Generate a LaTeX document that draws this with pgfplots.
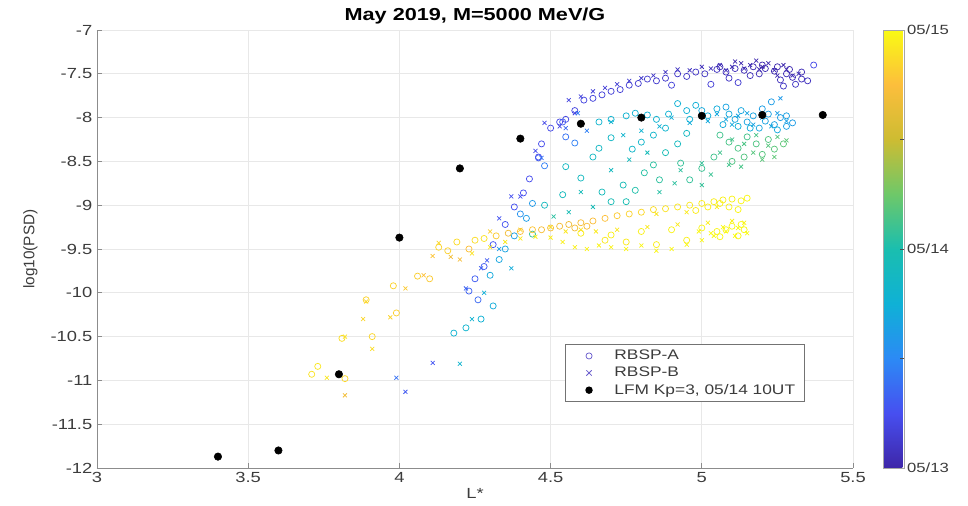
\documentclass[border=0pt]{standalone}
\usepackage{fontspec}
\setmainfont{Liberation Sans}[FakeStretch=1.25]
\newfontfamily\plainsans{Liberation Sans}
\usepackage{pgfplots}
\usepackage{pgfplotstable}
\pgfplotsset{compat=1.18}

\definecolor{legmark}{RGB}{105,92,205}
\definecolor{tickgray}{RGB}{60,60,60}

% parula-like colormap, 05/13 (0) to 05/15 (2)
\pgfplotsset{colormap={parula}{rgb255=(62,38,168) rgb255=(71,79,240) rgb255=(44,138,245) rgb255=(15,177,214) rgb255=(26,190,175) rgb255=(110,200,105) rgb255=(205,188,50) rgb255=(252,190,60) rgb255=(249,250,20)}}

% RBSP-A: L*, log10(PSD), time in days since 05/13 00UT
\pgfplotstableread{
x y t
5.37 -7.40 0.22
5.33 -7.56 0.06
5.30 -7.54 0.05
5.28 -7.50 0.04
5.26 -7.57 0.07
5.24 -7.47 0.03
5.21 -7.44 0.04
5.19 -7.50 0.05
5.17 -7.42 0.03
5.14 -7.46 0.05
5.12 -7.60 0.14
5.11 -7.44 0.06
5.08 -7.48 0.07
5.05 -7.45 0.08
5.03 -7.62 0.16
5.01 -7.50 0.09
4.98 -7.48 0.10
4.95 -7.53 0.11
4.92 -7.50 0.11
4.90 -7.63 0.17
4.88 -7.55 0.12
4.85 -7.58 0.13
4.82 -7.56 0.13
4.79 -7.61 0.14
4.76 -7.63 0.15
4.73 -7.68 0.16
4.70 -7.70 0.16
4.67 -7.74 0.17
4.64 -7.78 0.18
4.61 -7.80 0.19
4.58 -7.92 0.19
4.55 -8.02 0.20
4.53 -8.05 0.21
4.50 -8.12 0.22
4.47 -8.30 0.23
4.46 -8.45 0.23
4.43 -8.70 0.24
4.41 -8.86 0.25
4.38 -9.02 0.26
4.35 -9.22 0.27
4.31 -9.45 0.28
4.28 -9.70 0.30
4.25 -9.84 0.31
4.23 -9.98 0.33
4.26 -10.08 0.36
5.29 -7.45 0.03
5.25 -7.42 0.02
5.20 -7.40 0.02
5.16 -7.52 0.06
5.09 -7.55 0.10
5.06 -7.42 0.04
5.33 -7.48 0.05
5.35 -7.58 0.08
5.31 -7.62 0.09
5.27 -7.64 0.10
5.30 -8.06 0.62
5.28 -8.10 0.64
5.26 -8.00 0.63
5.24 -8.08 0.65
5.22 -7.96 0.64
5.21 -8.04 0.66
5.19 -8.12 0.68
5.17 -7.98 0.66
5.15 -8.05 0.67
5.13 -7.92 0.68
5.11 -8.02 0.69
5.09 -7.96 0.70
5.07 -8.08 0.71
5.23 -7.82 0.62
5.05 -7.90 0.72
5.02 -7.98 0.73
4.98 -7.86 0.74
4.95 -7.92 0.75
4.92 -7.84 0.76
4.89 -7.96 0.77
4.85 -8.02 0.78
4.82 -7.97 0.76
4.78 -7.95 0.77
4.75 -7.98 0.78
4.70 -8.02 0.79
4.66 -8.05 0.80
5.28 -7.98 0.65
5.25 -8.14 0.70
5.20 -7.90 0.63
5.16 -8.12 0.72
5.12 -8.10 0.74
5.08 -7.88 0.66
5.00 -7.92 0.70
4.96 -8.02 0.76
4.88 -8.12 0.80
4.84 -8.20 0.82
4.80 -8.28 0.83
4.77 -8.36 0.84
4.70 -8.23 0.86
4.66 -8.35 0.87
4.64 -8.45 0.88
4.58 -8.29 0.46
4.55 -8.22 0.40
4.54 -8.05 0.30
4.46 -8.46 0.30
4.48 -8.55 0.45
4.55 -8.56 0.88
4.60 -8.69 0.90
4.74 -8.77 0.95
4.67 -8.85 0.93
4.70 -8.96 0.96
4.54 -8.88 0.92
4.48 -9.00 0.90
4.44 -8.98 0.60
4.40 -9.10 0.55
4.84 -8.54 1.05
4.81 -8.63 1.04
4.86 -8.71 1.06
4.96 -8.71 1.08
4.78 -8.83 1.02
4.75 -8.96 0.98
5.06 -8.20 1.12
5.09 -8.28 1.14
5.12 -8.35 1.15
5.15 -8.22 1.13
5.18 -8.30 1.16
5.20 -8.42 1.18
5.22 -8.25 1.17
5.24 -8.36 1.19
5.27 -8.30 1.20
5.14 -8.45 1.17
5.10 -8.50 1.16
5.04 -8.45 1.12
5.00 -8.58 1.10
4.93 -8.52 1.08
4.88 -8.40 0.96
4.92 -8.30 0.90
4.95 -8.18 0.88
4.30 -9.80 0.70
4.33 -9.62 0.68
4.18 -10.46 0.78
4.22 -10.40 0.80
4.27 -10.30 0.76
4.31 -10.15 0.72
4.35 -9.50 0.66
4.38 -9.35 0.64
4.42 -9.15 0.62
4.44 -9.33 1.10
3.73 -10.84 1.92
3.71 -10.93 1.90
3.81 -10.52 1.88
3.82 -10.98 1.86
3.91 -10.50 1.85
3.89 -10.08 1.84
3.99 -10.23 1.82
3.98 -9.92 1.84
4.06 -9.81 1.82
4.10 -9.84 1.80
4.13 -9.48 1.85
4.16 -9.52 1.83
4.19 -9.42 1.87
4.23 -9.50 1.76
4.25 -9.40 1.88
4.28 -9.38 1.90
4.32 -9.35 1.80
4.36 -9.32 1.70
4.40 -9.30 1.75
4.44 -9.28 1.78
4.47 -9.28 1.72
4.50 -9.26 1.72
4.53 -9.24 1.70
4.56 -9.22 1.68
4.58 -9.26 1.70
4.60 -9.20 1.72
4.62 -9.24 1.73
4.64 -9.18 1.74
4.68 -9.15 1.76
4.72 -9.12 1.80
4.76 -9.10 1.84
4.80 -9.08 1.86
4.84 -9.05 1.88
4.88 -9.04 1.90
4.92 -9.02 1.92
4.96 -9.00 1.93
4.98 -9.06 1.94
5.00 -8.98 1.94
5.02 -9.02 1.95
5.04 -8.96 1.95
5.06 -8.98 1.96
5.07 -8.94 1.96
5.09 -9.02 1.97
5.10 -8.93 1.97
5.12 -9.05 1.98
5.13 -8.95 1.98
5.15 -8.92 1.99
4.60 -9.32 1.95
4.70 -9.34 1.96
4.80 -9.30 1.96
4.90 -9.28 1.97
5.00 -9.26 1.98
5.05 -9.30 1.98
5.06 -9.36 1.99
5.08 -9.28 1.99
5.10 -9.24 1.99
5.13 -9.22 2.00
5.14 -9.28 2.00
5.12 -9.35 1.99
4.95 -9.40 1.96
4.85 -9.45 1.95
4.75 -9.42 1.94
4.68 -9.40 1.93
}\rbspa

% RBSP-B: L*, log10(PSD), time in days since 05/13 00UT
\pgfplotstableread{
x y t
5.32 -7.50 0.04
5.30 -7.52 0.04
5.28 -7.45 0.02
5.27 -7.40 0.02
5.25 -7.52 0.03
5.24 -7.46 0.03
5.22 -7.38 0.02
5.20 -7.42 0.01
5.19 -7.45 0.03
5.18 -7.35 0.02
5.16 -7.40 0.03
5.14 -7.44 0.04
5.13 -7.38 0.02
5.11 -7.36 0.02
5.10 -7.42 0.04
5.08 -7.46 0.05
5.06 -7.40 0.05
5.03 -7.44 0.06
5.00 -7.42 0.07
4.96 -7.46 0.08
4.92 -7.45 0.09
4.88 -7.48 0.10
4.84 -7.52 0.11
4.80 -7.55 0.12
4.76 -7.58 0.14
4.72 -7.62 0.15
4.68 -7.66 0.16
4.64 -7.70 0.17
4.60 -7.76 0.18
4.58 -7.95 0.20
4.56 -7.80 0.19
4.53 -8.10 0.21
4.48 -8.06 0.22
4.45 -8.38 0.23
4.40 -8.90 0.25
4.37 -8.90 0.26
4.33 -9.15 0.27
4.29 -9.63 0.30
4.27 -9.72 0.32
4.22 -9.95 0.34
4.11 -10.80 0.28
3.99 -10.97 0.40
4.02 -11.13 0.30
5.28 -8.04 0.64
5.25 -7.95 0.63
5.23 -8.10 0.68
5.20 -8.00 0.65
5.17 -8.08 0.66
5.15 -7.95 0.66
5.12 -7.98 0.67
5.10 -8.08 0.70
5.08 -8.02 0.68
5.05 -7.96 0.69
5.26 -7.78 0.60
5.02 -8.04 0.70
4.96 -8.06 0.72
4.90 -8.00 0.74
4.86 -8.10 0.76
4.80 -8.15 0.78
4.74 -8.20 0.80
4.70 -8.05 0.78
4.62 -8.15 0.46
4.59 -7.95 0.45
4.55 -8.12 0.35
4.47 -8.46 0.40
4.20 -10.81 0.80
4.24 -10.30 0.78
4.28 -10.00 0.74
4.37 -9.72 0.72
4.33 -9.50 0.60
4.64 -9.02 0.95
4.56 -9.08 0.97
4.51 -9.13 1.05
4.60 -8.85 0.94
4.70 -8.60 0.90
4.76 -8.48 0.92
4.82 -8.40 0.94
4.93 -8.60 1.06
5.00 -8.52 1.08
5.09 -8.54 1.12
5.13 -8.56 1.14
5.03 -8.65 1.10
4.91 -8.75 1.06
5.00 -8.77 1.08
4.86 -8.85 1.04
5.10 -8.25 1.13
5.14 -8.30 1.15
5.18 -8.20 1.14
5.22 -8.32 1.18
5.25 -8.22 1.17
5.28 -8.26 1.20
5.17 -8.40 1.18
5.20 -8.48 1.19
5.24 -8.45 1.20
5.06 -8.40 1.12
3.76 -10.97 1.92
3.82 -10.50 1.90
3.82 -11.17 1.70
3.91 -10.64 1.88
3.89 -10.10 1.86
3.88 -10.30 1.85
3.97 -10.28 1.84
4.02 -9.95 1.80
4.08 -9.80 1.76
4.11 -9.58 1.78
4.13 -9.43 1.86
4.17 -9.59 1.70
4.20 -9.62 1.72
4.24 -9.55 1.90
4.30 -9.48 1.92
4.35 -9.42 1.93
4.40 -9.38 1.94
4.45 -9.36 1.95
4.50 -9.37 1.95
4.54 -9.42 1.96
4.58 -9.48 1.96
4.62 -9.50 1.97
4.66 -9.46 1.97
4.70 -9.48 1.97
4.75 -9.50 1.98
4.80 -9.46 1.98
4.85 -9.52 1.98
4.90 -9.50 1.99
4.95 -9.45 1.99
4.99 -9.30 1.99
5.00 -9.40 1.99
5.03 -9.32 2.00
5.04 -9.35 2.00
5.07 -9.25 2.00
5.08 -9.30 2.00
5.11 -9.35 2.00
5.12 -9.26 2.00
5.14 -9.20 1.98
5.15 -9.32 2.00
4.72 -9.28 1.92
4.82 -9.25 1.93
4.92 -9.22 1.94
5.02 -9.20 1.95
5.10 -9.18 1.96
4.65 -9.30 1.93
4.60 -9.28 1.90
4.55 -9.30 1.92
4.50 -9.25 1.88
4.40 -9.28 1.84
4.30 -9.30 1.82
4.85 -9.10 1.91
4.95 -9.08 1.93
5.05 -9.02 1.95
}\rbspb

% LFM model, Kp=3, 05/14 10UT
\pgfplotstableread{
x y
3.4 -11.87
3.6 -11.80
3.8 -10.93
4.0 -9.37
4.2 -8.58
4.4 -8.24
4.6 -8.07
4.8 -8.00
5.0 -7.98
5.2 -7.97
5.4 -7.97
}\lfm

\begin{document}
\begin{tikzpicture}
\path[use as bounding box] (0,0) rectangle (726pt,379.5pt);
\begin{axis}[
  at={(72.75pt,28.5pt)}, anchor=south west,
  scale only axis, width=567pt, height=328.5pt,
  xmin=3, xmax=5.5, ymin=-12, ymax=-7,
  xtick={3,3.5,4,4.5,5,5.5},
  ytick={-12,-11.5,-11,-10.5,-10,-9.5,-9,-8.5,-8,-7.5,-7},
  /pgf/number format/assume math mode=true,
  ticklabel style={font=\fontsize{11}{13}\selectfont, text=tickgray},
  axis x line*=bottom, axis y line*=left,
  axis line style={black!45, line width=0.5pt},
  tick align=inside, major tick length=4pt,
  tick style={black!45, line width=0.5pt},
  grid=major, major grid style={black!9, line width=0.5pt},
  title={May 2019, M=5000 MeV/G},
  every axis title shift=0pt,
  title style={at={(0.5,1)}, anchor=base, yshift=6.75pt, font=\bfseries\fontsize{13}{15}\selectfont},
  xlabel={L*},
  xlabel style={at={(axis description cs:0.5,0)}, anchor=center, yshift=-19pt, font=\fontsize{11}{13}\selectfont, text=tickgray},
  ylabel={\plainsans log10(PSD)},
  ylabel style={at={(axis description cs:0,0.5)}, anchor=center, rotate=0, yshift=50pt, font=\fontsize{11.5}{13}\selectfont, text=tickgray},
  point meta min=0, point meta max=2,
  colorbar,
  colorbar style={
    at={(parent axis.north east)}, anchor=north west, xshift=14.25pt,
    width=15.75pt,
    ytick={0,1,2}, yticklabels={05/13,05/14,05/15},
    minor ytick={0.5,1.5},
    yticklabel style={font=\fontsize{10}{12}\selectfont, text=tickgray, xshift=-1.5pt},
    ytick pos=right, tick align=inside, ytick align=inside,
    major tick length=3pt, minor tick length=3pt,
    ytick style={black!70, line width=0.5pt},
    minor tick style={black!70, line width=0.5pt},
    axis line style={black!35, line width=0.4pt},
  },
  legend cell align=left,
  legend style={at={(0.619,0.151)}, anchor=south west, draw=black!55, line width=0.5pt, fill=white,
    font=\fontsize{10.4}{12.5}\selectfont, text=tickgray, inner xsep=5pt, inner ysep=2pt, row sep=0pt},
]
\addplot[scatter, only marks, mark=o, mark size=2.3pt, line width=0.55pt,
  scatter src=explicit, scatter/use mapped color={draw=mapped color}, forget plot]
  table[x=x, y=y, meta=t] {\rbspa};
\addplot[scatter, only marks, mark=x, mark size=2.1pt, line width=0.55pt,
  scatter src=explicit, scatter/use mapped color={draw=mapped color}, forget plot]
  table[x=x, y=y, meta=t] {\rbspb};
\addplot[only marks, mark=*, mark size=2.8pt, black, forget plot] table[x=x, y=y] {\lfm};
\addlegendimage{legend image code/.code={\path[draw=none, fill=none] (0,0) -- (1.05cm,0);
  \draw[legmark, fill=none, line width=0.55pt] (0.45cm,0) circle[radius=2.3pt];}}
\addlegendentry{RBSP-A}
\addlegendimage{legend image code/.code={\path[draw=none, fill=none] (0,0) -- (1.05cm,0);
  \draw[legmark, line width=0.55pt] (0.45cm-2pt,-2pt) -- (0.45cm+2pt,2pt) (0.45cm-2pt,2pt) -- (0.45cm+2pt,-2pt);}}
\addlegendentry{RBSP-B}
\addlegendimage{legend image code/.code={\path[draw=none, fill=none] (0,0) -- (1.05cm,0);
  \fill[black, draw=none] (0.45cm,0) circle[radius=2.8pt];}}
\addlegendentry{LFM Kp=3, 05/14 10UT}
\end{axis}
\end{tikzpicture}
\end{document}
